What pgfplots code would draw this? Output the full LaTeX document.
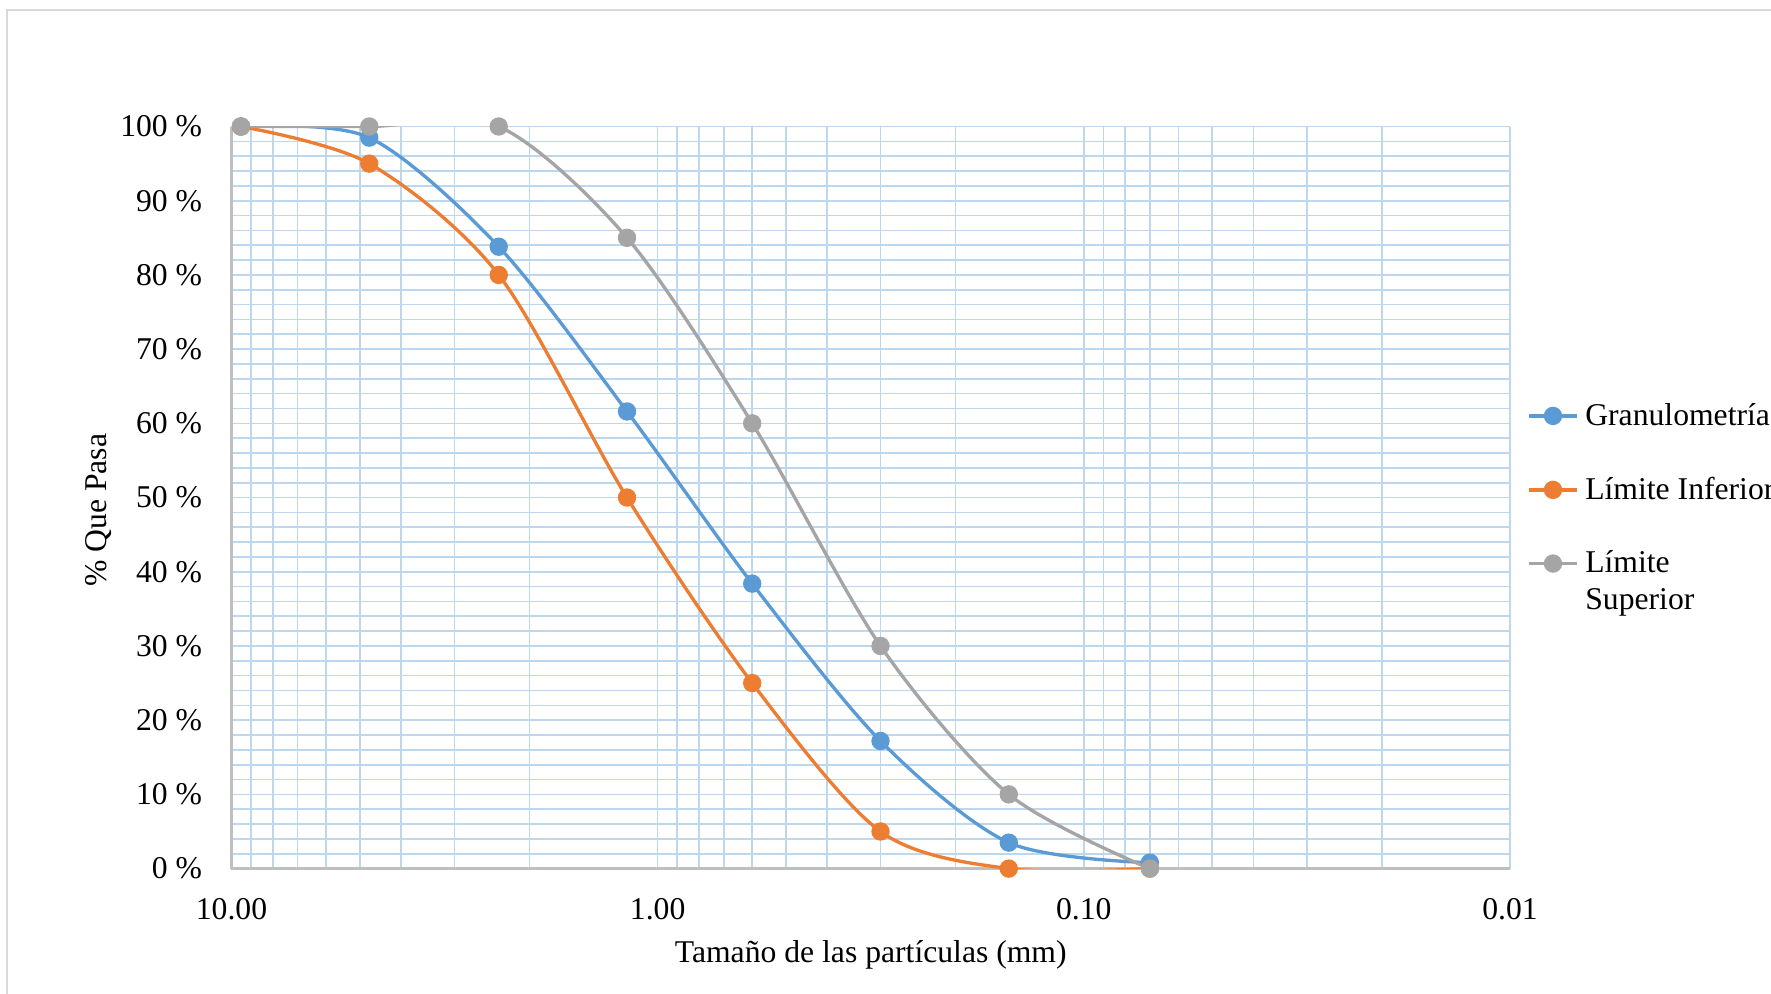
\documentclass[border=0pt]{standalone}
\usepackage{fontspec}
\setmainfont{Liberation Serif}
\usepackage{pgfplots}
\pgfplotsset{compat=1.18}
\definecolor{cblue}{RGB}{91,155,213}
\definecolor{corange}{RGB}{237,125,49}
\definecolor{cgray}{RGB}{165,165,165}
\definecolor{gridblue}{RGB}{189,215,238}
\definecolor{axgray}{RGB}{191,191,191}
\definecolor{framegray}{RGB}{217,217,217}
\begin{document}
\begin{tikzpicture}[font=\fontsize{9.5}{11.1}\selectfont]
\useasboundingbox (0,0) rectangle (531.3pt,297.9pt);
\draw[framegray, line width=0.6pt] (2.1pt,-20pt) -- (2.1pt,294.9pt) -- (560pt,294.9pt);
\begin{axis}[
  at={(69.45pt,37.32pt)}, anchor=south west,
  scale only axis, width=383.55pt, height=222.63pt,
  xmode=log, x dir=reverse,
  xmin=0.01, xmax=10, ymin=0, ymax=100,
  xtick={0.01,0.1,1,10}, xticklabels={0.01,0.10,1.00,10.00},
  minor xtick={0.02,0.03,0.04,0.05,0.06,0.07,0.08,0.09,0.2,0.3,0.4,0.5,0.6,0.7,0.8,0.9,2,3,4,5,6,7,8,9},
  ytick={0,10,...,100},
  yticklabels={0 \%,10 \%,20 \%,30 \%,40 \%,50 \%,60 \%,70 \%,80 \%,90 \%,100 \%},
  minor y tick num=4,
  grid=both,
  major grid style={line width=0.5pt, draw=gridblue},
  minor grid style={line width=0.5pt, draw=gridblue},
  tick style={draw=none},
  axis lines*=left,
  axis line style={-, draw=axgray, line width=0.7pt},
  yticklabel style={xshift=-5.3pt},
  xticklabel style={yshift=-5.3pt},
  /pgf/number format/assume math mode=true,
  xlabel={Tamaño de las partículas (mm)},
  ylabel={\% Que Pasa},
  xlabel style={at={(axis description cs:0.5,-0.1168)}, anchor=center},
  ylabel style={at={(axis description cs:-0.104,0.483)}, anchor=center},
  clip=true, clip marker paths=false,
  legend cell align=left,
  legend style={at={(rel axis cs:1,0.637)}, anchor=north west, xshift=5pt,
    draw=none, fill=none, inner sep=0pt, row sep=10pt,
    cells={anchor=base west}},
  legend image code/.code={\draw[#1, mark repeat=2, mark phase=2] plot coordinates {(0pt,2.8pt)(7.2pt,2.8pt)(14.4pt,2.8pt)};},
  every axis plot/.append style={line width=1pt, smooth, mark=*, mark size=2.25pt},
]
\addplot[cblue, mark options={fill=cblue, draw=cblue}] coordinates {
(9.5,100)(4.75,98.5)(2.36,83.8)(1.18,61.6)(0.6,38.4)(0.3,17.2)(0.15,3.5)(0.07,0.8)};
\addlegendentry{Granulometría}
\addplot[corange, mark options={fill=corange, draw=corange}] coordinates {
(9.5,100)(4.75,95)(2.36,80)(1.18,50)(0.6,25)(0.3,5)(0.15,0)(0.07,0)};
\addlegendentry{Límite Inferior}
\addplot[cgray, mark options={fill=cgray, draw=cgray}] coordinates {
(9.5,100)(4.75,100)(2.36,100)(1.18,85)(0.6,60)(0.3,30)(0.15,10)(0.07,0)};
\addlegendentry{\vtop{\hbox{Límite}\hbox{Superior}}}
\end{axis}
\end{tikzpicture}
\end{document}
